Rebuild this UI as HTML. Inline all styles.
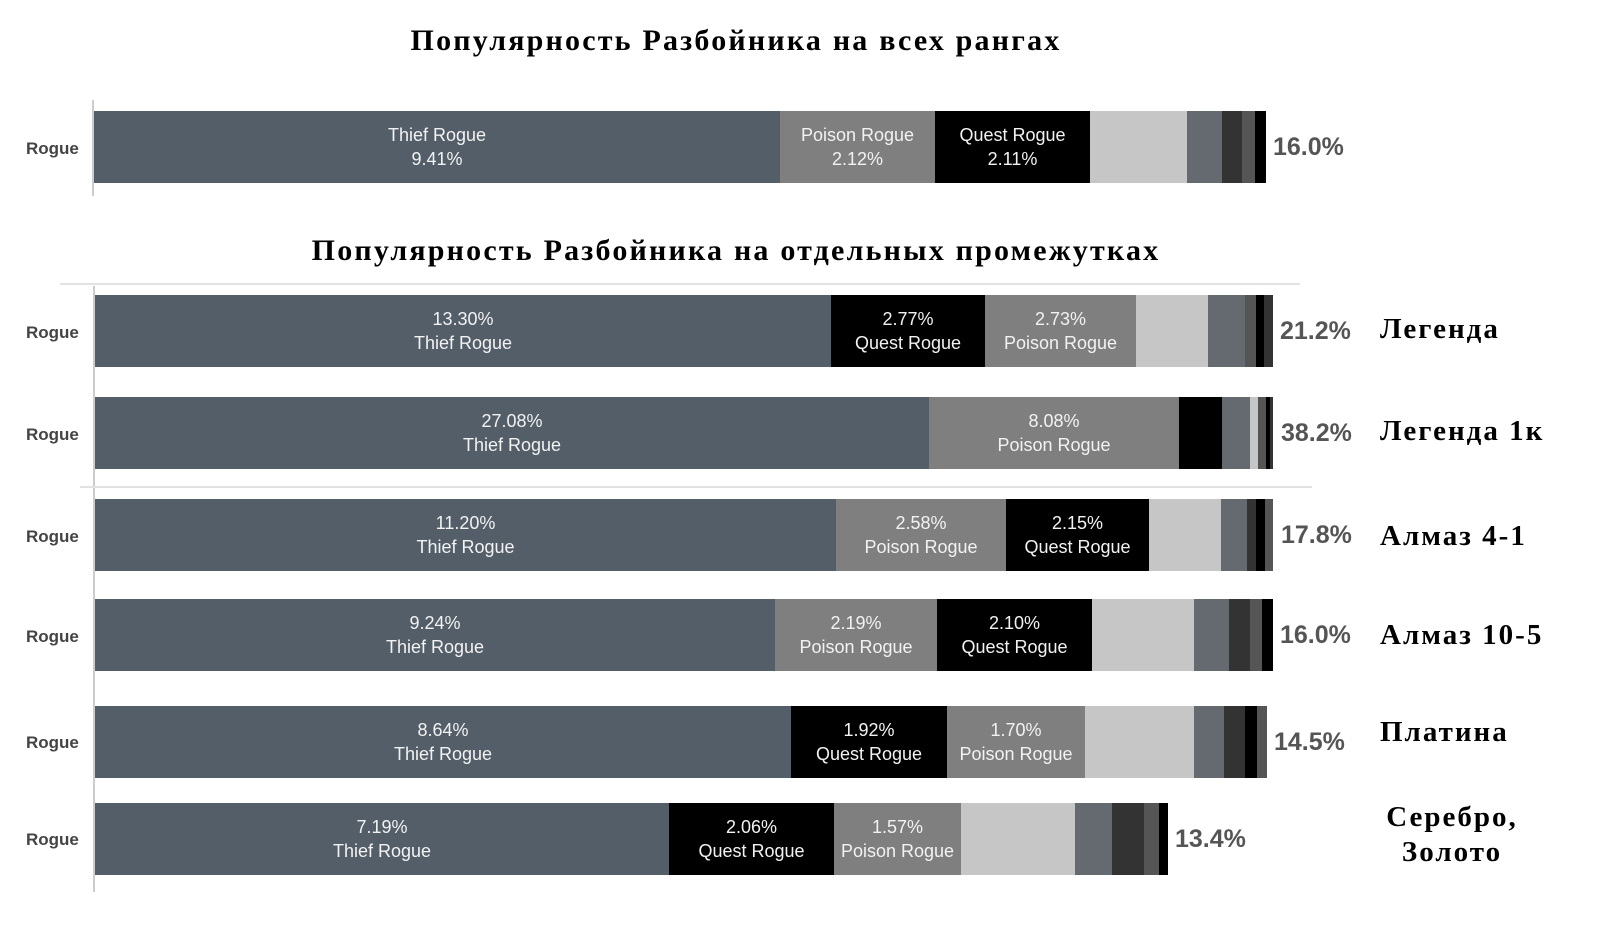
<!DOCTYPE html>
<html><head><meta charset="utf-8"><style>
body{margin:0;width:1608px;height:926px;background:#fff;position:relative;overflow:hidden;font-family:"Liberation Sans",sans-serif}
.s{position:absolute;height:72px;display:flex;flex-direction:column;align-items:center;justify-content:center;color:#f2f2f2;font-size:18px;line-height:24px;text-align:center;white-space:nowrap;overflow:hidden}
.t{background:#535e69}.p{background:#7f7f7f}.q{background:#000}.l{background:#c6c6c6}.m{background:#656a71}.d{background:#333}.g{background:#555}.k{background:#000}
.rl{position:absolute;left:26px;font-weight:bold;font-size:17px;color:#444;line-height:20px}
.pc{position:absolute;font-weight:bold;font-size:25px;color:#555;line-height:28px}
.rn{position:absolute;left:1380px;font-family:"Liberation Serif",serif;font-weight:bold;font-size:29px;letter-spacing:2px;color:#000;line-height:34px}
.ti{position:absolute;left:0;width:1472px;text-align:center;font-family:"Liberation Serif",serif;font-weight:bold;font-size:30px;letter-spacing:2.2px;color:#000}
.ax{position:absolute;width:2px;background:#ccc}
.hr{position:absolute;height:2px;background:#e2e2e2}
</style></head><body>
<div class="ti" style="top:24px">Популярность Разбойника на всех рангах</div>
<div class="ti" style="top:234px">Популярность Разбойника на отдельных промежутках</div>
<div class="ax" style="left:92px;top:100px;height:96px"></div>
<div class="ax" style="left:93px;top:286px;height:606px"></div>
<div class="hr" style="left:60px;top:283px;width:1240px"></div>
<div class="hr" style="left:80px;top:486px;width:1232px"></div>

<div class="rl" style="top:139px">Rogue</div>
<div class="s t" style="top:111px;left:94px;width:686px"><span>Thief Rogue</span><span>9.41%</span></div>
<div class="s p" style="top:111px;left:780px;width:155px"><span>Poison Rogue</span><span>2.12%</span></div>
<div class="s q" style="top:111px;left:935px;width:155px"><span>Quest Rogue</span><span>2.11%</span></div>
<div class="s l" style="top:111px;left:1090px;width:97px"></div>
<div class="s m" style="top:111px;left:1187px;width:35px"></div>
<div class="s d" style="top:111px;left:1222px;width:20px"></div>
<div class="s g" style="top:111px;left:1242px;width:13px"></div>
<div class="s k" style="top:111px;left:1255px;width:11px"></div>
<div class="pc" style="left:1273px;top:133px">16.0%</div>

<div class="rl" style="top:323px">Rogue</div>
<div class="s t" style="top:295px;left:95px;width:736px"><span>13.30%</span><span>Thief Rogue</span></div>
<div class="s q" style="top:295px;left:831px;width:154px"><span>2.77%</span><span>Quest Rogue</span></div>
<div class="s p" style="top:295px;left:985px;width:151px"><span>2.73%</span><span>Poison Rogue</span></div>
<div class="s l" style="top:295px;left:1136px;width:72px"></div>
<div class="s m" style="top:295px;left:1208px;width:37px"></div>
<div class="s g" style="top:295px;left:1245px;width:11px"></div>
<div class="s k" style="top:295px;left:1256px;width:8px"></div>
<div class="s d" style="top:295px;left:1264px;width:9px"></div>
<div class="pc" style="left:1280px;top:317px">21.2%</div>
<div class="rn" style="top:312px">Легенда</div>

<div class="rl" style="top:425px">Rogue</div>
<div class="s t" style="top:397px;left:95px;width:834px"><span>27.08%</span><span>Thief Rogue</span></div>
<div class="s p" style="top:397px;left:929px;width:250px"><span>8.08%</span><span>Poison Rogue</span></div>
<div class="s q" style="top:397px;left:1179px;width:43px"></div>
<div class="s m" style="top:397px;left:1222px;width:28px"></div>
<div class="s l" style="top:397px;left:1250px;width:8px"></div>
<div class="s g" style="top:397px;left:1258px;width:8px"></div>
<div class="s k" style="top:397px;left:1266px;width:4px"></div>
<div class="s d" style="top:397px;left:1270px;width:3px"></div>
<div class="pc" style="left:1281px;top:419px">38.2%</div>
<div class="rn" style="top:414px">Легенда 1к</div>

<div class="rl" style="top:527px">Rogue</div>
<div class="s t" style="top:499px;left:95px;width:741px"><span>11.20%</span><span>Thief Rogue</span></div>
<div class="s p" style="top:499px;left:836px;width:170px"><span>2.58%</span><span>Poison Rogue</span></div>
<div class="s q" style="top:499px;left:1006px;width:143px"><span>2.15%</span><span>Quest Rogue</span></div>
<div class="s l" style="top:499px;left:1149px;width:72px"></div>
<div class="s m" style="top:499px;left:1221px;width:26px"></div>
<div class="s d" style="top:499px;left:1247px;width:9px"></div>
<div class="s k" style="top:499px;left:1256px;width:9px"></div>
<div class="s g" style="top:499px;left:1265px;width:8px"></div>
<div class="pc" style="left:1281px;top:521px">17.8%</div>
<div class="rn" style="top:519px">Алмаз 4-1</div>

<div class="rl" style="top:627px">Rogue</div>
<div class="s t" style="top:599px;left:95px;width:680px"><span>9.24%</span><span>Thief Rogue</span></div>
<div class="s p" style="top:599px;left:775px;width:162px"><span>2.19%</span><span>Poison Rogue</span></div>
<div class="s q" style="top:599px;left:937px;width:155px"><span>2.10%</span><span>Quest Rogue</span></div>
<div class="s l" style="top:599px;left:1092px;width:102px"></div>
<div class="s m" style="top:599px;left:1194px;width:35px"></div>
<div class="s d" style="top:599px;left:1229px;width:21px"></div>
<div class="s g" style="top:599px;left:1250px;width:12px"></div>
<div class="s k" style="top:599px;left:1262px;width:11px"></div>
<div class="pc" style="left:1280px;top:621px">16.0%</div>
<div class="rn" style="top:618px">Алмаз 10-5</div>

<div class="rl" style="top:733px">Rogue</div>
<div class="s t" style="top:706px;left:95px;width:696px"><span>8.64%</span><span>Thief Rogue</span></div>
<div class="s q" style="top:706px;left:791px;width:156px"><span>1.92%</span><span>Quest Rogue</span></div>
<div class="s p" style="top:706px;left:947px;width:138px"><span>1.70%</span><span>Poison Rogue</span></div>
<div class="s l" style="top:706px;left:1085px;width:109px"></div>
<div class="s m" style="top:706px;left:1194px;width:30px"></div>
<div class="s d" style="top:706px;left:1224px;width:21px"></div>
<div class="s k" style="top:706px;left:1245px;width:12px"></div>
<div class="s g" style="top:706px;left:1257px;width:10px"></div>
<div class="pc" style="left:1274px;top:728px">14.5%</div>
<div class="rn" style="top:715px">Платина</div>

<div class="rl" style="top:830px">Rogue</div>
<div class="s t" style="top:803px;left:95px;width:574px"><span>7.19%</span><span>Thief Rogue</span></div>
<div class="s q" style="top:803px;left:669px;width:165px"><span>2.06%</span><span>Quest Rogue</span></div>
<div class="s p" style="top:803px;left:834px;width:127px"><span>1.57%</span><span>Poison Rogue</span></div>
<div class="s l" style="top:803px;left:961px;width:114px"></div>
<div class="s m" style="top:803px;left:1075px;width:37px"></div>
<div class="s d" style="top:803px;left:1112px;width:32px"></div>
<div class="s g" style="top:803px;left:1144px;width:15px"></div>
<div class="s k" style="top:803px;left:1159px;width:9px"></div>
<div class="pc" style="left:1175px;top:825px">13.4%</div>
<div class="rn" style="top:800px;left:1372px;text-align:center;width:160px;line-height:35px">Серебро,<br>Золото</div>
</body></html>
